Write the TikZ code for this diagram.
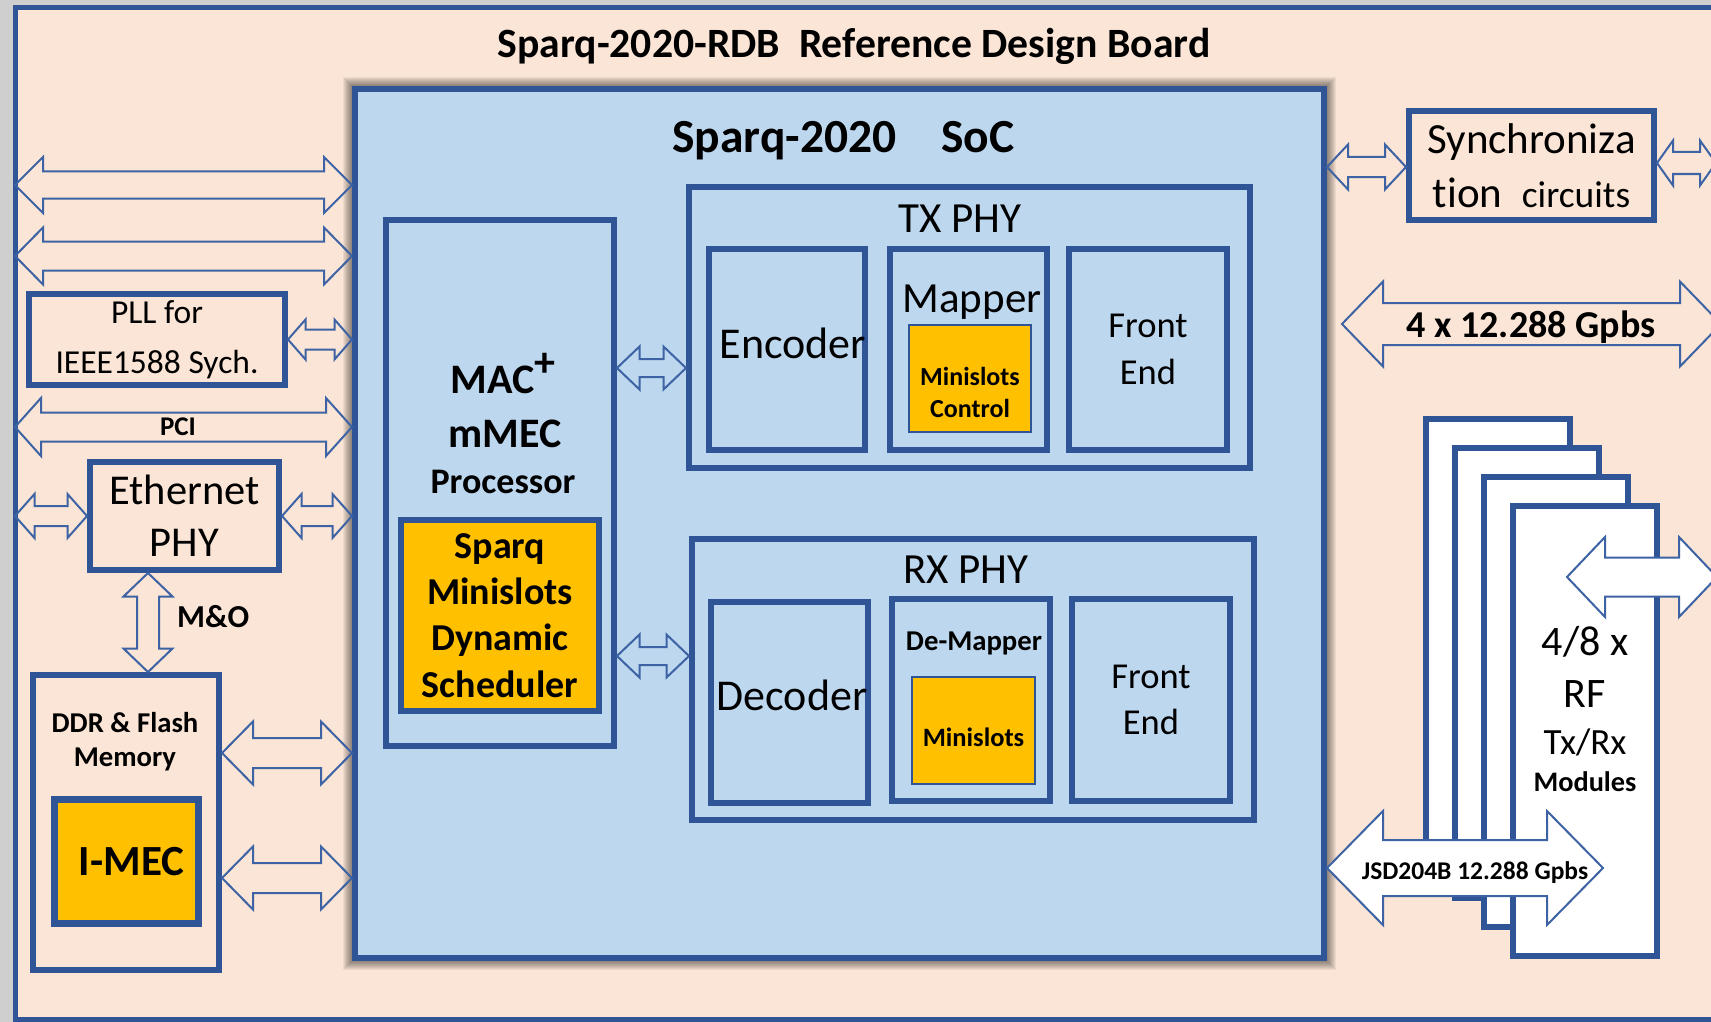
\documentclass[tikz,border=0pt]{standalone}
\usepackage{fontspec}
\setmainfont{Carlito}[Ligatures = NoCommon]
\usetikzlibrary{calc, positioning}

\definecolor{bordblue}{RGB}{47,85,151}
\definecolor{arrowblue}{RGB}{61,99,164}
\definecolor{peach}{RGB}{251,229,214}
\definecolor{socblue}{RGB}{189,215,238}
\definecolor{gold}{RGB}{255,192,0}
\definecolor{pagegray}{RGB}{208,207,207}

\newcommand{\fsz}[2]{\fontsize{#1pt}{#2pt}\selectfont}

% Horizontal block arrow: [style] {from} {to} {shaft half} {head half} {head length}
\newcommand{\harrow}[6][]{%
	\draw[blockarrow, #1] let \p1 = #2, \p2 = #3 in
		(\x1, \y1) -- (\x1 + #6pt, \y1 + #5pt) -- (\x1 + #6pt, \y1 + #4pt)
		-- (\x2 - #6pt, \y1 + #4pt) -- (\x2 - #6pt, \y1 + #5pt) -- (\x2, \y1)
		-- (\x2 - #6pt, \y1 - #5pt) -- (\x2 - #6pt, \y1 - #4pt)
		-- (\x1 + #6pt, \y1 - #4pt) -- (\x1 + #6pt, \y1 - #5pt) -- cycle;}

% Vertical block arrow, top to bottom
\newcommand{\varrow}[6][]{%
	\draw[blockarrow, #1] let \p1 = #2, \p2 = #3 in
		(\x1, \y1) -- (\x1 + #5pt, \y1 - #6pt) -- (\x1 + #4pt, \y1 - #6pt)
		-- (\x1 + #4pt, \y2 + #6pt) -- (\x1 + #5pt, \y2 + #6pt) -- (\x1, \y2)
		-- (\x1 - #5pt, \y2 + #6pt) -- (\x1 - #4pt, \y2 + #6pt)
		-- (\x1 - #4pt, \y1 - #6pt) -- (\x1 - #5pt, \y1 - #6pt) -- cycle;}

\begin{document}
\begin{tikzpicture}[x = 1pt, y = -1pt,
	box/.style = {draw = bordblue, line width = 6pt, inner sep = 0pt},
	goldbox/.style = {box, fill = gold},
	thinbox/.style = {draw = bordblue, line width = 1.5pt, fill = gold, inner sep = 0pt},
	blockarrow/.style = {draw = arrowblue, line width = 2pt, line join = miter},
	whitearrow/.style = {fill = white},
	lbl/.style = {inner sep = 0pt, anchor = base, align = center}]

	% Page and board
	
	\useasboundingbox (0, 0) rectangle (1711, 1022);
	\clip (0, 0) rectangle (1711, 1022);
	\fill[pagegray] (0, 0) rectangle (1711, 1022);
	\node[box, line width = 5pt, outer sep = 0pt, fill = peach, minimum width = 1715pt, minimum height = 1011pt] (board) at (872.5, 513.5) {};
	\node[lbl] (title) at (854, 58) {\fsz{41.7}{50}\bfseries Sparq-2020-RDB\ \ Reference Design Board};
	
	
	% SoC, with a soft shadow round it
	
	\foreach \s in {1, ..., 12}
		\fill[black, opacity = 0.055] (355 - \s, 89 - \s) rectangle (1324 + \s, 958 + \s);
	\node[box, fill = socblue, minimum width = 969pt, minimum height = 869pt] (soc) at (839.5, 523.5) {};
	\node[lbl] (soctitle) at (843.5, 153) {\fsz{47.5}{57}\bfseries Sparq-2020\hspace{45pt}SoC};
	
	% MAC processor
	\node[box, minimum width = 228pt, minimum height = 526pt] (mac) at (500, 483) {};
	\node[lbl] (mac1) at (503, 393) {\fsz{42}{50}\bfseries MAC\raisebox{17pt}{+}};
	\node[lbl] (mac2) at (505, 447) {\fsz{42}{50}\bfseries mMEC};
	\node[lbl] (mac3) at (503, 493) {\fsz{36}{44}\bfseries Processor};
	\node[goldbox, minimum width = 198pt, minimum height = 191pt, align = center, font = \fsz{38}{46.3}\bfseries] (sched) at (500, 615.5) {Sparq\\Minislots\\Dynamic\\Scheduler};
	
	% TX PHY
	\node[box, minimum width = 561pt, minimum height = 281pt] (tx) at (969.5, 327.5) {};
	\node[lbl] (txlabel) at (960, 232) {\fsz{43}{52}TX PHY};
	\node[box, minimum width = 156pt, minimum height = 201pt] (enc) at (787, 349.5) {};
	\node[lbl] (enclabel) at (793, 358) {\fsz{44}{52}Encoder};
	\node[box, minimum width = 157pt, minimum height = 201pt] (map) at (968.5, 349.5) {};
	\node[lbl] (maplabel) at (972, 312) {\fsz{43}{52}Mapper};
	\node[thinbox, minimum width = 122pt, minimum height = 107pt] (mapctl) at (970, 378.5) {};
	\node[lbl] (ctl1) at (970, 385) {\fsz{26}{32}\bfseries Minislots};
	\node[lbl] (ctl2) at (970, 417) {\fsz{26}{32}\bfseries Control};
	\node[box, minimum width = 158pt, minimum height = 201pt, align = center, font = \fsz{36.5}{47}] (txfe) at (1148, 349.5) {Front\\End};
	
	% RX PHY
	\node[box, minimum width = 562pt, minimum height = 281pt] (rx) at (973, 679.5) {};
	\node[lbl] (rxlabel) at (966, 583) {\fsz{43}{52}RX PHY};
	\node[box, minimum width = 157pt, minimum height = 201pt] (dec) at (789.5, 702.5) {};
	\node[lbl] (declabel) at (792, 710) {\fsz{44}{52}Decoder};
	\node[box, minimum width = 158pt, minimum height = 202pt] (demap) at (971, 700) {};
	\node[lbl] (demaplabel) at (974, 650) {\fsz{28.7}{34}\bfseries De-Mapper};
	\node[thinbox, minimum width = 123pt, minimum height = 107pt] (slots) at (973.5, 730.5) {};
	\node[lbl] (slotslabel) at (973.5, 746) {\fsz{26.5}{32}\bfseries Minislots};
	\node[box, minimum width = 158pt, minimum height = 202pt, align = center, font = \fsz{36.5}{46}] (rxfe) at (1151, 700) {Front\\End};
	
	% MAC to the PHYs
	\harrow{(mac.east |- 0, 368)}{(tx.west |- 0, 368)}{9}{21.5}{22.5}
	\harrow{(mac.east |- 0, 656)}{(rx.west |- 0, 656)}{9}{21.5}{22.5}
	
	
	% Left side of the board
	
	\harrow{(board.west |- 0, 185)}{(soc.west |- 0, 185)}{13.5}{28}{28}
	\harrow{(board.west |- 0, 256)}{(soc.west |- 0, 256)}{14.5}{28.5}{28}
	
	\node[box, minimum width = 256pt, minimum height = 91pt, align = center, font = \fsz{33.5}{50}] (pll) at (157, 339.5) {PLL for\\IEEE1588 Sych.};
	\harrow{(pll.east)}{(soc.west |- pll.east)}{10}{20}{17.5}
	
	\harrow{(board.west |- 0, 427)}{(soc.west |- 0, 427)}{14.5}{29}{26}
	\node[lbl] (pci) at (178, 435) {\fsz{27}{32}\bfseries PCI};
	
	\node[box, minimum width = 189pt, minimum height = 108pt, align = center, font = \fsz{42.5}{52}] (eth) at (184.5, 516) {Ethernet\\PHY};
	\harrow{(board.west |- eth.west)}{(eth.west)}{10}{22}{19.5}
	\harrow{(eth.east)}{(soc.west |- eth.east)}{10}{22}{19.5}
	
	\node[box, minimum width = 186pt, minimum height = 295pt] (ddr) at (126, 822.5) {};
	\node[lbl] (ddr1) at (125, 732) {\fsz{28.7}{34}\bfseries DDR \& Flash};
	\node[lbl] (ddr2) at (125, 766) {\fsz{28.7}{34}\bfseries Memory};
	\node[goldbox, line width = 6.5pt, minimum width = 144pt, minimum height = 124pt] (imec) at (126.5, 861.5) {\hspace{10pt}\fsz{43}{50}\bfseries I-MEC};
	
	\varrow{(148, 0 |- eth.south)}{(148, 0 |- ddr.north)}{11}{24.5}{23.5}
	\node[lbl, anchor = base west] (mo) at (177, 627) {\fsz{32}{38}\bfseries M\&O};
	
	\harrow{(ddr.east |- 0, 753)}{(soc.west |- 0, 753)}{15}{31.5}{31}
	\harrow{(ddr.east |- 0, 878)}{(soc.west |- 0, 878)}{15}{31.5}{31}
	
	
	% Right side of the board
	
	\node[box, minimum width = 245pt, minimum height = 109pt, align = center, font = \fsz{43}{54}] (sync) at (1531.5, 165.5) {Synchroniza\\tion\ \ {\fsz{37.5}{54}circuits}};
	\harrow{(soc.east |- 0, 167)}{(sync.west |- 0, 167)}{10}{22.5}{21}
	\coordinate (syncout) at (1716, 163);
	\harrow{(sync.east |- syncout)}{(syncout)}{11}{22.5}{16}
	
	\coordinate (linkL) at (1342, 324);
	\coordinate (linkR) at (1721, 324);
	\harrow{(linkL)}{(linkR)}{21}{42.5}{41}
	\node[lbl] (linklabel) at (1531, 337) {\fsz{38}{44}\bfseries 4 x 12.288 Gpbs};
	
	% RF modules, stacked back to front
	\foreach \i in {0, ..., 3}
		\node[box, fill = white, minimum width = 144pt, minimum height = 450pt] (rf\i) at (1498 + 29 * \i, 644 + 29 * \i) {};
	
	\coordinate (rfin) at (1567, 577);
	\coordinate (rfout) at (1717, 577);
	\harrow[whitearrow]{(rfin)}{(rfout)}{19.5}{40}{38}
	
	\node[lbl] (rfl1) at (1585, 655) {\fsz{42}{50}4/8 x};
	\node[lbl] (rfl2) at (1585, 707) {\fsz{42}{50}RF};
	\node[lbl] (rfl3) at (1585, 754) {\fsz{37}{44}Tx/Rx};
	\node[lbl] (rfl4) at (1585, 791) {\fsz{28.3}{34}\bfseries Modules};
	
	\coordinate (jsdR) at (1603, 868);
	\harrow[whitearrow]{(soc.east |- jsdR)}{(jsdR)}{28}{57}{56}
	\node[lbl] (jsdlabel) at (1475, 879) {\fsz{25.5}{30}\bfseries JSD204B 12.288 Gpbs};

\end{tikzpicture}
\end{document}
